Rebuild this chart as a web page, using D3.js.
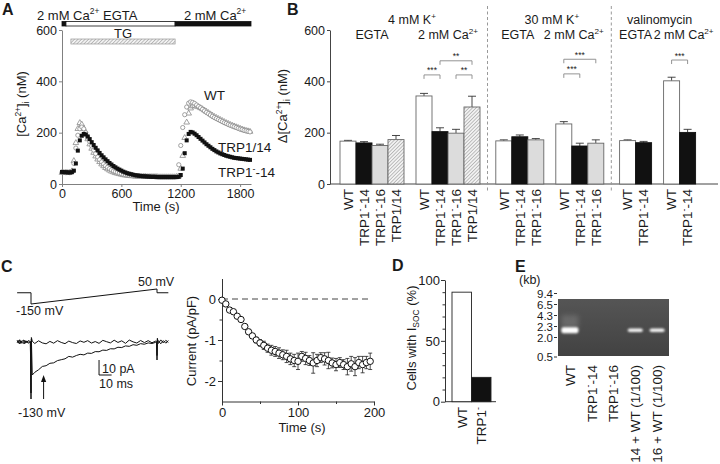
<!DOCTYPE html>
<html><head><meta charset="utf-8">
<script src="https://cdn.jsdelivr.net/npm/d3@7"></script>
<style>
body{margin:0;background:#fff}
svg{display:block}
text{font-family:"Liberation Sans",Arial,sans-serif;fill:#1a1a1a}
</style>
</head><body>
<svg id="fig" width="720" height="464"></svg>
<script>
// ================= DATA =================
// Panel A: [Ca2+]i time course (nM) sampled every 20 s
const timeA = [0,20,40,60,80,100,120,140,160,180,200,220,240,260,280,300,320,340,360,380,
  400,420,440,460,480,500,520,540,560,580,600,620,640,660,680,700,720,740,760,780,
  800,820,840,860,880,900,920,940,960,980,1000,1020,1040,1060,1080,1100,1120,1140,1160,1180,
  1200,1220,1240,1260,1280,1300,1320,1340,1360,1380,1400,1420,1440,1460,1480,1500,1520,1540,1560,1580,
  1600,1620,1640,1660,1680,1700,1720,1740,1760,1780,1800,1820,1840,1860,1880,1900];
const wtA = [45,45,44,45,44,48,80,140,190,215,
  222,215,200,182,165,148,132,118,105,95,
  86,78,71,65,60,55,51,48,45,42,
  40,38,36,35,34,33,32,32,31,31,
  30,30,30,29,29,29,29,28,28,28,
  28,28,28,28,28,28,28,28,30,75,
  150,220,270,300,315,320,318,314,308,302,
  297,291,285,279,274,269,264,259,255,251,
  247,243,239,236,232,229,226,223,220,217,
  214,212,209,207,205,203];
const trp114A = [44,44,45,44,45,50,90,160,215,238,
  232,215,195,175,155,138,122,108,96,86,
  77,70,63,58,53,49,46,43,41,39,
  37,35,34,33,32,31,31,30,30,30,
  29,29,29,28,28,28,28,28,28,27,
  27,27,27,27,27,27,27,27,28,30,
  60,110,180,240,275,295,303,305,303,300,
  296,292,287,282,277,272,267,262,258,254,
  250,246,242,238,235,231,228,225,222,219,
  216,213,210,208,206,204];
const trpKO14A = [47,46,46,45,45,46,52,80,130,170,
  188,195,193,185,175,163,152,141,131,121,
  112,104,96,89,82,76,70,65,60,56,
  52,48,45,42,40,38,36,34,33,32,
  31,30,30,29,29,28,28,28,27,27,
  27,27,27,27,27,27,27,27,27,28,
  35,60,120,170,195,203,201,196,190,183,
  176,169,162,155,149,143,137,132,127,123,
  119,116,113,110,108,106,104,102,101,100,
  99,98,97,96,95,94];
const ticksAx = [0,600,1200,1800];
const ticksAy = [0,200,400,600];
const solutionStart = [0,40,1143];
const solutionEnd = [40,1143,1910];
const solutionCa = [true,false,true];
const tgPeriod = [90,1143];

// Panel B: delta [Ca2+]i bars
const barLabelsB = [
  ["WT","TRP1^{-}-14","TRP1^{-}-16","TRP1/14"],
  ["WT","TRP1^{-}-14","TRP1^{-}-16","TRP1/14"],
  ["WT","TRP1^{-}-14","TRP1^{-}-16"],
  ["WT","TRP1^{-}-14","TRP1^{-}-16"],
  ["WT","TRP1^{-}-14"],
  ["WT","TRP1^{-}-14"]];
const barValuesB = [[167,160,150,173],[343,204,198,300],[168,184,172],[234,148,159],[169,161],[402,201]];
const barErrorsB = [[3,5,5,16],[10,15,15,42],[4,7,5],[9,11,13],[3,5],[14,12]];
const conditionsB = ["EGTA","2 mM Ca^{2+}","EGTA","2 mM Ca^{2+}","EGTA","2 mM Ca^{2+}"];
const headersB = ["4 mM K^{+}","30 mM K^{+}","valinomycin"];
const sigGroupB = [1,1,1,3,3,5];
const sigFromB = [0,1,2,0,0,0];
const sigToB = [1,3,3,1,2,1];
const sigLevelB = [425,480,425,429,486,483];
const sigTextB = ["***","**","**","***","***","***"];
const ticksBy = [0,200,400,600];

// Panel C left: voltage protocol and current traces
const protoT = [-11,0,0,100,100,109];
const protoV = [0,0,-150,50,0,0];
const traceT = [-11,-10,-9,-8,-7,-6,-5,-4,-3,-2,-0.5, 0,0.3,
  1,3,6,9,12,15,18,21,24,27,30,33,36,39,42,45,48,51,54,57,60,63,66,69,72,75,78,81,84,87,90,93,96,99,
  99.7,100,100.3, 101,103,105,107,109];
const traceCtrl = [1.2,-0.8,1.5,-1.0,0.6,1.3,-1.2,0.8,-0.5,1.0,0.2, -38,3,
  0.5,-1.0,0.8,-0.6,-1.2,0.4,-0.8,0.9,-0.3,-1.1,0.6,-0.4,-1.0,0.7,-0.2,0.9,-0.7,0.3,-0.9,1.1,0.2,-0.6,1.2,-0.3,0.8,-0.9,1.3,0.1,-0.7,1.0,-0.4,0.9,-0.5,0.6,
  0.5,-12,2.5, -1.0,1.4,-0.6,1.1,-0.3];
const traceSoc = [-0.5,1.0,-1.2,0.9,-0.4,-1.0,1.1,-0.6,0.7,-0.9,0.4, -34,2,
  -22,-20.2,-18.5,-16.3,-15.8,-14.2,-13.9,-12.4,-11.8,-11.2,-9.6,-10.1,-9.0,-8.2,-8.6,-7.4,-7.6,-6.4,-6.5,-5.4,-5.6,-4.5,-4.6,-3.5,-3.7,-2.6,-2.9,-1.8,-2.2,-1.1,-1.5,-0.6,-1.0,-0.2,
  -0.5,-9,1.5, 0.8,-1.2,0.9,-0.8,1.0];
const arrowMv = -130;

// Panel C right: I_SOC development
const timeC = [0,5,10,15,20,25,30,35,40,45,50,55,60,65,70,75,80,85,90,95,
  100,105,110,115,120,125,130,135,140,145,150,155,160,165,170,175,180,185,190,195];
const currentC = [-0.03,-0.12,-0.27,-0.31,-0.42,-0.5,-0.67,-0.8,-0.9,-1.0,-1.07,-1.13,-1.2,-1.25,-1.28,-1.32,-1.36,-1.4,-1.46,-1.5,
  -1.52,-1.4,-1.45,-1.5,-1.56,-1.5,-1.43,-1.46,-1.5,-1.56,-1.6,-1.55,-1.6,-1.65,-1.58,-1.65,-1.55,-1.6,-1.55,-1.52];
const errorC = [0.02,0.02,0.03,0.03,0.04,0.04,0.05,0.05,0.06,0.07,0.08,0.1,0.1,0.12,0.12,0.13,0.12,0.15,0.14,0.15,
  0.2,0.12,0.15,0.12,0.25,0.15,0.12,0.15,0.2,0.12,0.15,0.12,0.12,0.2,0.18,0.22,0.15,0.2,0.15,0.2];
const ticksCx = [0,100,200];
const ticksCy = [0,-1,-2];

// Panel D: cells with I_SOC
const labelsD = ["WT","TRP1^{-}"];
const valuesD = [90,20];
const ticksDy = [0,50,100];

// Panel E: RT-PCR gel
const lanesE = ["WT","TRP1^{-}-14","TRP1^{-}-16","14 + WT (1/100)","16 + WT (1/100)"];
const bandIntensityE = [1,0,0,0.8,0.8];
const ladderE = [9.4,6.5,4.3,2.3,2.0,0.5];
const ladderLabelsE = ["9.4","6.5","4.3","2.3","2.0","0.5"];
const bandSizeE = 2.2;

// ================= DRAWING =================
const svg = d3.select("#fig");
const FONT = '"Liberation Sans",Arial,sans-serif';
svg.append("rect").attr("width",720).attr("height",464).attr("fill","#fff");

const defs = svg.append("defs");
const hatch = defs.append("pattern").attr("id","hatch").attr("patternUnits","userSpaceOnUse")
  .attr("width",2.5).attr("height",2.5).attr("patternTransform","rotate(45)");
hatch.append("rect").attr("width",2.5).attr("height",2.5).attr("fill","#f2f2f2");
hatch.append("line").attr("x1",0).attr("y1",0).attr("x2",0).attr("y2",2.5).attr("stroke","#8a8a8a").attr("stroke-width",1);
const blur = defs.append("filter").attr("id","glow").attr("x","-50%").attr("y","-100%").attr("width","200%").attr("height","300%");
blur.append("feGaussianBlur").attr("stdDeviation",0.9);
const blur2 = defs.append("filter").attr("id","glow2").attr("x","-50%").attr("y","-100%").attr("width","200%").attr("height","300%");
blur2.append("feGaussianBlur").attr("stdDeviation",2.5);

function rich(sel, str, fs){
  sel.attr("font-size", fs);
  const parts = str.split(/(\^\{[^}]*\}|_\{[^}]*\})/).filter(p => p !== "");
  let shift = 0;
  parts.forEach(p => {
    let kind = 0, txt = p;
    if (p.startsWith("^{")) { kind = 1; txt = p.slice(2,-1); }
    else if (p.startsWith("_{")) { kind = -1; txt = p.slice(2,-1); }
    const target = kind === 1 ? -fs*0.4 : kind === -1 ? fs*0.22 : 0;
    const ts = sel.append("tspan").text(txt);
    if (target - shift !== 0) ts.attr("dy", target - shift);
    if (kind) ts.attr("font-size", fs*0.65);
    shift = target;
  });
  return sel;
}
function label(x, y, str, fs, anchor, rot, weight){
  const t = svg.append("text").attr("text-anchor", anchor || "start")
    .attr("transform", `translate(${x},${y})` + (rot ? ` rotate(${rot})` : ""));
  if (weight) t.attr("font-weight", weight);
  return rich(t, str, fs);
}
function styleAxis(g, col, fs){
  g.attr("font-size", null).attr("font-family", null);
  g.select(".domain").attr("stroke", col);
  g.selectAll(".tick line").attr("stroke", col);
  g.selectAll(".tick text").attr("font-size", fs || 12.5).attr("fill", "#1a1a1a").attr("font-family", FONT);
}

// ---------- Panel letters ----------
label(2,15,"A",16,"start",0,"bold");
label(287,15,"B",16,"start",0,"bold");
label(1,272,"C",16,"start",0,"bold");
label(392,271,"D",16,"start",0,"bold");
label(515,272,"E",16,"start",0,"bold");

// ---------- Panel A ----------
const xA = d3.scaleLinear().domain([0,1910]).range([62,251]);
const yA = d3.scaleLinear().domain([0,600]).range([184,30]);
const gAx = svg.append("g").attr("transform","translate(0,184)")
  .call(d3.axisBottom(xA).tickValues(ticksAx).tickFormat(d => String(d)).tickSize(3).tickSizeOuter(0).tickPadding(2));
styleAxis(gAx, "#808080", 12.5);
const gAy = svg.append("g").attr("transform","translate(62,0)")
  .call(d3.axisLeft(yA).tickValues(ticksAy).tickFormat(d => String(d)).tickSize(3).tickSizeOuter(0).tickPadding(2));
styleAxis(gAy, "#808080", 12.5);
label(156,211,"Time (s)",13,"middle");
label(26,104,"[Ca^{2+}]_{i} (nM)",13,"middle",-90);

// solution bar
svg.append("g").selectAll("rect").data(solutionStart).join("rect")
  .attr("x", (d) => xA(d)).attr("y",21.5)
  .attr("width", (d,i) => xA(solutionEnd[i]) - xA(d)).attr("height",4.5)
  .attr("fill", (d,i) => solutionCa[i] ? "#111" : "#fff").attr("stroke","#111").attr("stroke-width",0.8);
label(37,19.5,"2 mM Ca^{2+} EGTA",13,"start");
label((xA(solutionStart[2]) + xA(solutionEnd[2]))/2 + 2,19.5,"2 mM Ca^{2+}",13,"middle");
svg.append("rect").attr("x",xA(tgPeriod[0])).attr("y",39).attr("width",xA(tgPeriod[1])-xA(tgPeriod[0])).attr("height",5)
  .attr("fill","url(#hatch)").attr("stroke","#999").attr("stroke-width",0.7);
label((xA(tgPeriod[0])+xA(tgPeriod[1]))/2,37.5,"TG",13,"middle");

// series
const gA = svg.append("g");
gA.selectAll(".tri").data(timeA).join("path")
  .attr("d", d3.symbol(d3.symbolTriangle, 14))
  .attr("transform", (d,i) => `translate(${xA(d)},${yA(trp114A[i])})`)
  .attr("fill","#fff").attr("stroke","#8a8a8a").attr("stroke-width",0.8);
gA.selectAll(".cir").data(timeA).join("circle")
  .attr("cx", d => xA(d)).attr("cy", (d,i) => yA(wtA[i])).attr("r",2.1)
  .attr("fill","#fff").attr("stroke","#8a8a8a").attr("stroke-width",0.8);
gA.selectAll(".sq").data(timeA).join("rect")
  .attr("x", d => xA(d) - 2).attr("y", (d,i) => yA(trpKO14A[i]) - 2).attr("width",4).attr("height",4)
  .attr("fill","#111");
label(204,100,"WT",13.5,"start");
label(218,152,"TRP1/14",13.5,"start");
label(218,177,"TRP1^{-}-14",13.5,"start");

// ---------- Panel B ----------
const yB = d3.scaleLinear().domain([0,600]).range([184,30]);
const gBy = svg.append("g").attr("transform","translate(330,0)")
  .call(d3.axisLeft(yB).tickValues(ticksBy).tickFormat(d => String(d)).tickSize(3).tickSizeOuter(0).tickPadding(2));
styleAxis(gBy, "#444", 12.5);
svg.append("line").attr("x1",330).attr("x2",718).attr("y1",184).attr("y2",184).attr("stroke","#444");
label(287,106,"\u0394[Ca^{2+}]_{i} (nM)",13,"middle",-90);

const bw = 16, subGap = 12, sepPad = 7.8;
let cur = 340;
const groupX = [], sepX = [];
barValuesB.forEach((vals, gi) => {
  if (gi > 0) {
    if (gi % 2 === 0) { cur += sepPad - 0.3; sepX.push(cur); cur += sepPad + 0.5; }
    else cur += subGap;
  }
  groupX.push(cur);
  cur += vals.length * bw;
});
function fillFor(lbl){
  if (lbl === "WT") return "#fff";
  if (lbl === "TRP1^{-}-14") return "#111";
  if (lbl === "TRP1^{-}-16") return "#dcdcdc";
  return "url(#hatch)";
}
const gB = svg.append("g");
barValuesB.forEach((vals, gi) => {
  vals.forEach((v, bi) => {
    const x0 = groupX[gi] + bi*bw, cx = x0 + bw/2, lbl = barLabelsB[gi][bi];
    const e = barErrorsB[gi][bi];
    gB.append("line").attr("x1",cx).attr("x2",cx).attr("y1",yB(v)).attr("y2",yB(v+e)).attr("stroke","#333").attr("stroke-width",0.9);
    gB.append("line").attr("x1",cx-4).attr("x2",cx+4).attr("y1",yB(v+e)).attr("y2",yB(v+e)).attr("stroke","#333").attr("stroke-width",0.9);
    gB.append("rect").attr("x",x0).attr("y",yB(v)).attr("width",bw).attr("height",yB(0)-yB(v))
      .attr("fill",fillFor(lbl)).attr("stroke", lbl === "TRP1^{-}-14" ? "#111" : "#666").attr("stroke-width",0.9);
    label(cx+4.8,189,lbl,13.5,"end",-90);
  });
});
sepX.forEach(x => svg.append("line").attr("x1",x).attr("x2",x).attr("y1",6).attr("y2",192)
  .attr("stroke","#999").attr("stroke-width",1).attr("stroke-dasharray","3,2.5"));
headersB.forEach((h, i) => {
  const a = groupX[2*i], b = groupX[2*i+1] + barValuesB[2*i+1].length*bw;
  label((a+b)/2 + 2, 24, h, 12.5, "middle");
});
conditionsB.forEach((c, gi) => {
  const cx = groupX[gi] + barValuesB[gi].length*bw/2;
  const off = gi === 3 ? -6 : gi === 5 ? 4 : gi === 2 ? -2 : 0;
  label(cx + off, 39, c, 12.5, "middle");
});
sigGroupB.forEach((g, i) => {
  const xa = groupX[g] + sigFromB[i]*bw + bw/2, xb = groupX[g] + sigToB[i]*bw + bw/2;
  const y = yB(sigLevelB[i]);
  gB.append("path").attr("d",`M${xa},${y+4}V${y}H${xb}V${y+4}`).attr("fill","none").attr("stroke","#888").attr("stroke-width",0.9);
  label((xa+xb)/2, y-1.5, sigTextB[i], 8.5, "middle");
});

// ---------- Panel C left: traces ----------
const xT = d3.scaleLinear().domain([0,100]).range([31,157]);
const yV = d3.scaleLinear().domain([-150,50]).range([304,289]);
const yI = d3.scaleLinear().domain([-40,0]).range([402,342]);
svg.append("path").datum(protoT).attr("fill","none").attr("stroke","#111").attr("stroke-width",1)
  .attr("d", d3.line().x(d => xT(d)).y((d,i) => yV(protoV[i])));
label(138,286,"50 mV",12.5,"start");
label(16,315,"-150 mV",12.5,"start");
svg.append("path").datum(traceT).attr("fill","none").attr("stroke","#111").attr("stroke-width",1)
  .attr("d", d3.line().x(d => xT(d)).y((d,i) => yI(traceCtrl[i])));
svg.append("path").datum(traceT).attr("fill","none").attr("stroke","#111").attr("stroke-width",1)
  .attr("d", d3.line().x(d => xT(d)).y((d,i) => yI(traceSoc[i])));
// arrow at -130 mV point of the ramp
const tArrow = (arrowMv - protoV[2]) / (protoV[3] - protoV[2]) * (protoT[3] - protoT[2]);
const ax = xT(tArrow);
svg.append("line").attr("x1",ax).attr("x2",ax).attr("y1",399).attr("y2",381).attr("stroke","#111").attr("stroke-width",1);
svg.append("path").attr("d",`M${ax-2.6},${382}L${ax},${375}L${ax+2.6},${382}Z`).attr("fill","#111");
label(18,417,"-130 mV",12.5,"start");
// scale bars
const sbx = xT(54);
svg.append("path").attr("d",`M${sbx},${yI(-12)}V${yI(-22)}H${xT(64)}`).attr("fill","none").attr("stroke","#111").attr("stroke-width",1);
label(sbx+3,373,"10 pA",12.5,"start");
label(sbx,388,"10 ms",12.5,"start");

// ---------- Panel C right ----------
const xC = d3.scaleLinear().domain([0,200]).range([222,374]);
const yC = d3.scaleLinear().domain([-2.5,0.5]).range([401.5,278.5]);
const gCx = svg.append("g").attr("transform","translate(0,401.5)")
  .call(d3.axisBottom(xC).tickValues([0,50,100,150,200]).tickSize(3).tickSizeOuter(0).tickPadding(3)
  .tickFormat(d => ticksCx.includes(d) ? String(d) : ""));
styleAxis(gCx, "#333", 13);
gCx.selectAll(".tick line").attr("y2", d => ticksCx.includes(d) ? 4 : 2.5);
const gCy = svg.append("g").attr("transform","translate(222,0)")
  .call(d3.axisLeft(yC).tickValues([0,-0.5,-1,-1.5,-2]).tickSize(3).tickSizeOuter(0).tickPadding(3)
  .tickFormat(d => ticksCy.includes(d) ? String(d) : ""));
styleAxis(gCy, "#333", 13);
gCy.selectAll(".tick line").attr("x2", d => ticksCy.includes(d) ? -4 : -2.5);
label(302,432,"Time (s)",13,"middle");
label(196,341,"Current (pA/pF)",13,"middle",-90);
svg.append("line").attr("x1",xC(0)).attr("x2",xC(196)).attr("y1",yC(0)).attr("y2",yC(0))
  .attr("stroke","#444").attr("stroke-width",1).attr("stroke-dasharray","6,4");
const gC = svg.append("g");
timeC.forEach((t, i) => {
  const x = xC(t), lo = yC(currentC[i]-errorC[i]), hi = yC(currentC[i]+errorC[i]);
  gC.append("path").attr("d",`M${x},${lo}V${hi}M${x-2},${lo}H${x+2}M${x-2},${hi}H${x+2}`)
    .attr("stroke","#222").attr("stroke-width",0.8).attr("fill","none");
});
gC.selectAll("circle").data(timeC).join("circle")
  .attr("cx", d => xC(d)).attr("cy", (d,i) => yC(currentC[i])).attr("r",3.2)
  .attr("fill","#fff").attr("stroke","#111").attr("stroke-width",1);

// ---------- Panel D ----------
const yD = d3.scaleLinear().domain([0,100]).range([401.7,280]);
const xD = d3.scaleBand().domain(labelsD).range([452,491]).padding(0);
const gDy = svg.append("g").attr("transform","translate(445,0)")
  .call(d3.axisLeft(yD).tickValues(d3.range(0,101,10)).tickSize(3).tickSizeOuter(0).tickPadding(2)
  .tickFormat(d => ticksDy.includes(d) ? String(d) : ""));
styleAxis(gDy, "#333", 13);
gDy.selectAll(".tick line").attr("x2", d => ticksDy.includes(d) ? -4 : -2.5);
svg.append("line").attr("x1",445).attr("x2",496).attr("y1",401.7).attr("y2",401.7).attr("stroke","#333");
svg.append("g").selectAll("rect").data(labelsD).join("rect")
  .attr("x", d => xD(d)).attr("y", (d,i) => yD(valuesD[i])).attr("width", xD.bandwidth())
  .attr("height", (d,i) => yD(0) - yD(valuesD[i]))
  .attr("fill", (d,i) => i === 0 ? "#fff" : "#111").attr("stroke","#222").attr("stroke-width",0.9);
labelsD.forEach(d => label(xD(d) + xD.bandwidth()/2 + 4.8, 407, d, 13.5, "end", -90));
label(416,338,"Cells with I_{SOC}  (%)",13,"middle",-90);

// ---------- Panel E ----------
const gelX0 = 558, gelX1 = 669, gelY0 = 299, gelY1 = 356;
const xE = d3.scaleBand().domain(lanesE).range([gelX0+1, gelX1-1]);
const yE = d3.scaleLinear().domain(ladderE).range([293.5,304.5,315.5,326.5,337.5,357]);
const gelGrad = defs.append("linearGradient").attr("id","gelg").attr("x1",0).attr("y1",0).attr("x2",0).attr("y2",1);
gelGrad.append("stop").attr("offset",0).attr("stop-color","#555");
gelGrad.append("stop").attr("offset",1).attr("stop-color","#424242");
svg.append("rect").attr("x",gelX0).attr("y",gelY0).attr("width",gelX1-gelX0).attr("height",gelY1-gelY0).attr("fill","url(#gelg)");
label(519,284,"(kb)",12.5,"start");
ladderE.forEach((k,i) => {
  label(553, yE(k)+4, ladderLabelsE[i], 11.5, "end");
  svg.append("line").attr("x1",554).attr("x2",557).attr("y1",yE(k)).attr("y2",yE(k)).attr("stroke","#333");
});
lanesE.forEach((ln, i) => {
  const cx = xE(ln) + xE.bandwidth()/2;
  const inten = bandIntensityE[i];
  if (inten > 0) {
    const w = i === 0 ? 17 : 15, h = i === 0 ? 6 : 3.5;
    if (i === 0) {
      svg.append("rect").attr("x",cx-w/2).attr("y",yE(bandSizeE)-15).attr("width",w).attr("height",13)
        .attr("fill","#8a8a8a").attr("opacity",0.45).attr("filter","url(#glow2)");
    }
    svg.append("rect").attr("x",cx-w/2).attr("y",yE(bandSizeE)-h/2).attr("width",w).attr("height",h)
      .attr("rx",2).attr("fill","#fff").attr("opacity",inten > 0.9 ? 1 : 0.95).attr("filter","url(#glow)");
  }
  label(cx+4.8,365,ln,13.5,"end",-90);
});
</script>
</body></html>
